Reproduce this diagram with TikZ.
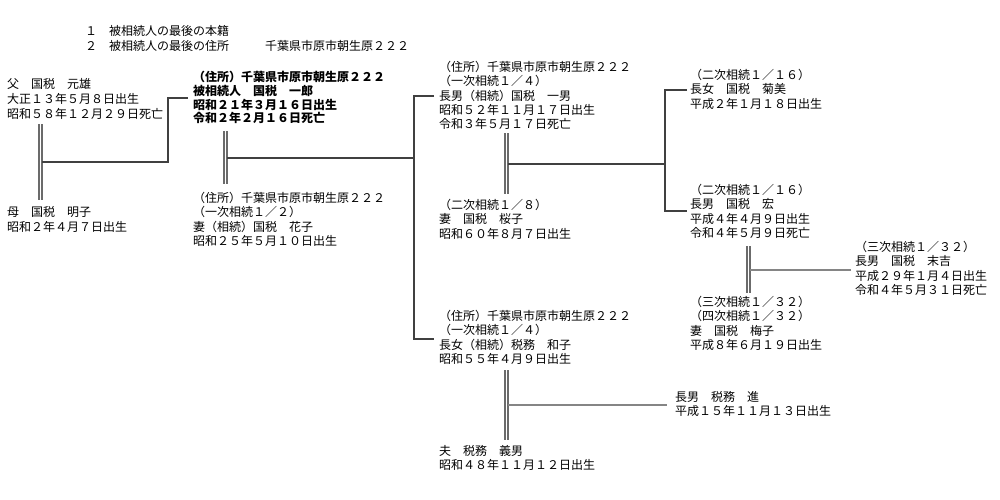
\documentclass[tikz,border=0pt]{standalone}
\usepackage{fontspec}
\setmainfont{Noto Sans CJK JP}
\usetikzlibrary{positioning}
\usetikzlibrary{calc}
\tikzstyle{person}=[anchor=north west,inner sep=0pt,align=left,font=\fontsize{12}{14.3}\selectfont]
\tikzstyle{parent}=[person,font=\fontsize{12}{15}\selectfont]
\tikzstyle{deceased}=[person,font=\fontsize{12}{13.8}\selectfont\bfseries]
\tikzstyle{marriage}=[draw=black!58,line width=1.4pt,double=white,double distance=1.4pt]
\tikzstyle{tie}=[line width=1.6pt,color=black!75]
\tikzstyle{lighttie}=[line width=1.6pt,color=black!48]

\begin{document}
\begin{tikzpicture}[x=1pt,y=-1pt]
	\useasboundingbox (0,0) rectangle (1000,500);
	
	% Header
	\node[person] (head1) at (85, 25) {１　被相続人の最後の本籍};
	\node[person] (head2) at (85, 40) {２　被相続人の最後の住所　　　千葉県市原市朝生原２２２};
	
	% Parents
	\node[parent] (father) at (7, 78) {父　国税　元雄\\大正１３年５月８日出生\\昭和５８年１２月２９日死亡};
	\node[parent] (mother) at (7, 206) {母　国税　明子\\昭和２年４月７日出生};
	\coordinate (fmtop) at (40.5, 124);
	\coordinate (fmbot) at (40.5, 200);
	\coordinate (fmmid) at (42, 162);
	\coordinate (fmturn) at (168, 162);
	\coordinate (fmup) at (168, 98);
	\coordinate (fmend) at (188, 98);
	\draw[marriage] (fmtop) -- (fmbot);
	\draw[tie] (fmmid) -- (fmturn) -- (fmup) -- (fmend);
	
	% Deceased and wife
	\node[deceased] (deceased) at (193, 71) {（住所）千葉県市原市朝生原２２２\\被相続人　国税　一郎\\昭和２１年３月１６日出生\\令和２年２月１６日死亡};
	\node[person] (wife) at (193, 192) {（住所）千葉県市原市朝生原２２２\\（一次相続１／２）\\妻（相続）国税　花子\\昭和２５年５月１０日出生};
	\coordinate (dwtop) at (225.5, 131);
	\coordinate (dwbot) at (225.5, 184);
	\coordinate (dwmid) at (227, 158);
	\coordinate (dwend) at (414, 158);
	\draw[marriage] (dwtop) -- (dwbot);
	\draw[tie] (dwmid) -- (dwend);
	
	% Children
	\node[person] (son) at (439, 61) {（住所）千葉県市原市朝生原２２２\\（一次相続１／４）\\長男（相続）国税　一男\\昭和５２年１１月１７日出生\\令和３年５月１７日死亡};
	\node[person] (sonwife) at (439, 199) {（二次相続１／８）\\妻　国税　桜子\\昭和６０年８月７日出生};
	\node[person] (daughter) at (439, 310) {（住所）千葉県市原市朝生原２２２\\（一次相続１／４）\\長女（相続）税務　和子\\昭和５５年４月９日出生};
	\node[person] (husband) at (439, 445) {夫　税務　義男\\昭和４８年１１月１２日出生};
	\coordinate (kidtop) at (414, 96);
	\coordinate (kidbot) at (414, 339);
	\draw[tie] (434, 96) -- (kidtop) -- (kidbot) -- (434, 339);
	
	% Son and his wife
	\coordinate (swtop) at (506.5, 133);
	\coordinate (swbot) at (506.5, 194);
	\coordinate (swmid) at (508, 164);
	\coordinate (swend) at (665, 164);
	\draw[marriage] (swtop) -- (swbot);
	\draw[tie] (swmid) -- (swend);
	
	% Grandchildren
	\node[person] (gdaughter) at (690, 69) {（二次相続１／１６）\\長女　国税　菊美\\平成２年１月１８日出生};
	\node[person] (gson) at (690, 184) {（二次相続１／１６）\\長男　国税　宏\\平成４年４月９日出生\\令和４年５月９日死亡};
	\node[person] (gsonwife) at (690, 296) {（三次相続１／３２）\\（四次相続１／３２）\\妻　国税　梅子\\平成８年６月１９日出生};
	\coordinate (gkidtop) at (665, 90);
	\coordinate (gkidbot) at (665, 211);
	\draw[tie] (687, 90) -- (gkidtop) -- (gkidbot) -- (687, 211);
	
	% Grandson and his wife
	\node[person] (ggson) at (855, 241) {（三次相続１／３２）\\長男　国税　末吉\\平成２９年１月４日出生\\令和４年５月３１日死亡};
	\coordinate (gwtop) at (748.5, 246);
	\coordinate (gwbot) at (748.5, 293);
	\coordinate (gwmid) at (750, 270);
	\coordinate (gwend) at (851, 270);
	\draw[marriage] (gwtop) -- (gwbot);
	\draw[lighttie] (gwmid) -- (gwend);
	
	% Daughter and her husband
	\node[person] (dson) at (675, 391) {長男　税務　進\\平成１５年１１月１３日出生};
	\coordinate (dhtop) at (506.5, 370);
	\coordinate (dhbot) at (506.5, 440);
	\coordinate (dhmid) at (508, 405);
	\coordinate (dhend) at (667, 405);
	\draw[marriage] (dhtop) -- (dhbot);
	\draw[lighttie] (dhmid) -- (dhend);
	
\end{tikzpicture}
\end{document}
